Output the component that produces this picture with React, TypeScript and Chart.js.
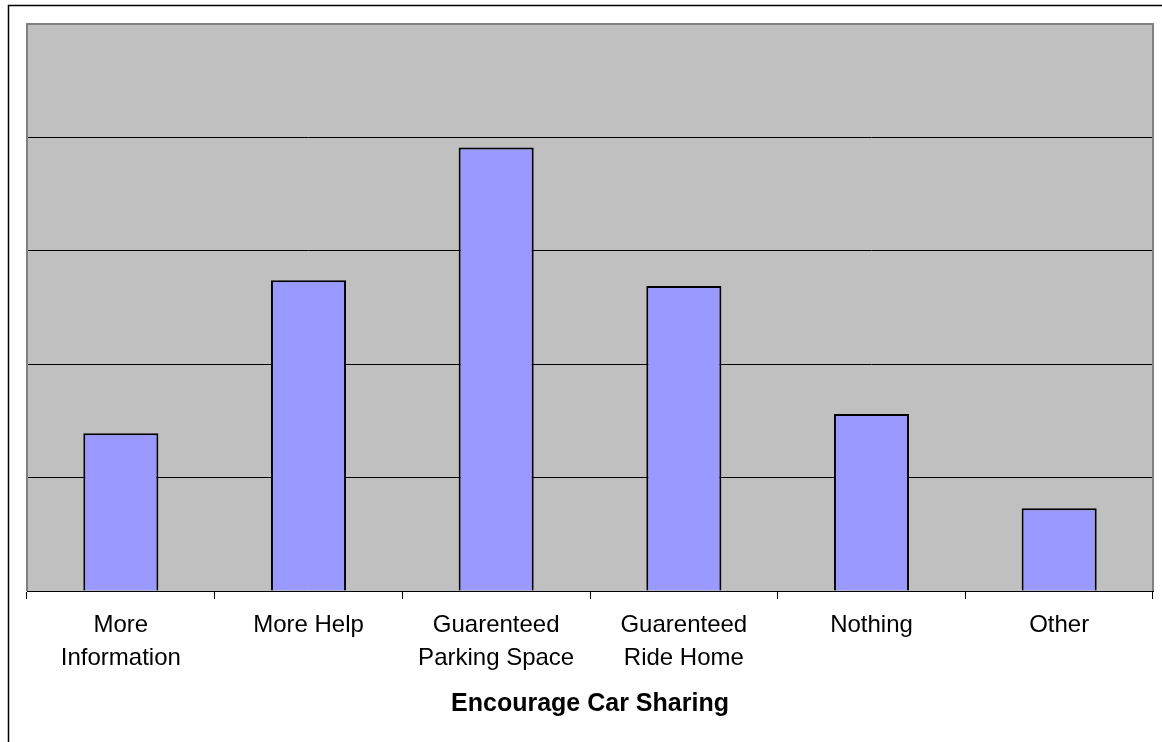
import React, { useEffect, useRef } from "react";
import { Chart, registerables } from "chart.js";

Chart.register(...registerables);

const categories: string[][] = [
  ["More", "Information"],
  ["More Help"],
  ["Guarenteed", "Parking Space"],
  ["Guarenteed", "Ride Home"],
  ["Nothing"],
  ["Other"],
];
const values: number[] = [13.9, 27.4, 39.1, 26.9, 15.6, 7.3];
const yMax = 50;
const yStep = 10;
const xTitle = "Encourage Car Sharing";

const framePlugin = {
  id: "frame",
  beforeDraw(chart: any) {
    const { ctx, chartArea } = chart;
    ctx.save();
    ctx.fillStyle = "#ffffff";
    ctx.fillRect(0, 0, chart.width, chart.height);
    ctx.strokeStyle = "#000000";
    ctx.lineWidth = 1.5;
    ctx.beginPath();
    ctx.moveTo(8.5, chart.height);
    ctx.lineTo(8.5, 5.5);
    ctx.lineTo(chart.width, 5.5);
    ctx.stroke();
    ctx.fillStyle = "#C0C0C0";
    ctx.fillRect(chartArea.left, chartArea.top, chartArea.right - chartArea.left, chartArea.bottom - chartArea.top);
    ctx.restore();
  },
  beforeDatasetsDraw(chart: any) {
    const { ctx, chartArea } = chart;
    ctx.save();
    ctx.strokeStyle = "#808080";
    ctx.lineWidth = 2;
    ctx.beginPath();
    ctx.moveTo(chartArea.left, chartArea.bottom);
    ctx.lineTo(chartArea.left, chartArea.top);
    ctx.lineTo(chartArea.right, chartArea.top);
    ctx.lineTo(chartArea.right, chartArea.bottom);
    ctx.stroke();
    ctx.restore();
  },
};

export default function App() {
  const ref = useRef<HTMLCanvasElement | null>(null);
  useEffect(() => {
    if (!ref.current) return;
    const chart = new Chart(ref.current, {
      type: "bar",
      data: {
        labels: categories,
        datasets: [
          {
            data: values,
            backgroundColor: "#9999FF",
            borderColor: "#000000",
            borderWidth: 2,
            barPercentage: 0.4,
            categoryPercentage: 1,
          },
        ],
      },
      options: {
        animation: false,
        responsive: true,
        maintainAspectRatio: false,
        layout: { padding: { left: 27, top: 24, right: 9, bottom: 23 } },
        plugins: { legend: { display: false }, tooltip: { enabled: false }, title: { display: false } },
        scales: {
          x: {
            grid: {
              offset: true,
              drawOnChartArea: false,
              drawTicks: true,
              tickLength: 8,
              tickColor: "#000000",
              tickWidth: 1,
            },
            border: { display: true, color: "#000000", width: 1 },
            ticks: {
              color: "#000000",
              padding: 10,
              maxRotation: 0,
              autoSkip: false,
              font: { family: "'Liberation Sans', Arial, sans-serif", size: 24, lineHeight: 1.375 },
            },
            title: {
              display: true,
              text: xTitle,
              color: "#000000",
              padding: { top: 4, bottom: 0 },
              font: { family: "'Liberation Sans', Arial, sans-serif", size: 25, weight: "bold", lineHeight: 1.2 },
            },
          },
          y: {
            min: 0,
            max: yMax,
            ticks: { display: false, stepSize: yStep },
            border: { display: false },
            grid: {
              drawTicks: false,
              color: (c: any) => (c.tick && c.tick.value === yMax ? "#808080" : "#000000"),
              lineWidth: 1,
            },
          },
        },
      },
      plugins: [framePlugin],
    });
    return () => chart.destroy();
  }, []);
  return (
    <div style={{ position: "fixed", left: 0, top: 0, width: 1162, height: 742, background: "#fff" }}>
      <canvas ref={ref} />
    </div>
  );
}
